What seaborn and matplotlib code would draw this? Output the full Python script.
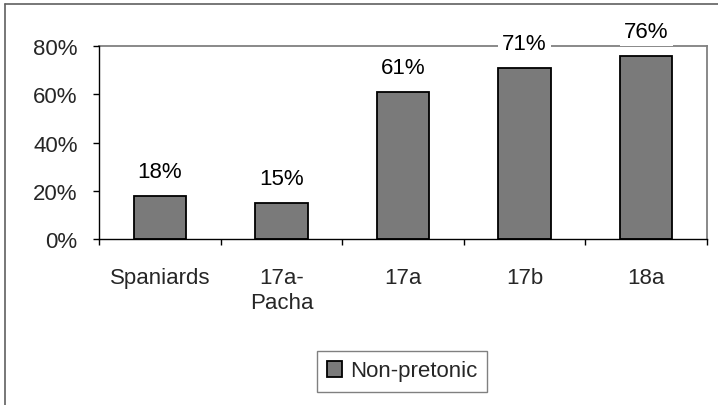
import matplotlib
matplotlib.use("Agg")
import matplotlib.pyplot as plt
import seaborn as sns
import pandas as pd
from matplotlib.lines import Line2D
from matplotlib.ticker import FixedLocator, PercentFormatter

categories = ["Spaniards", "17a-\nPacha", "17a", "17b", "18a"]
values = [18, 15, 61, 71, 76]
labels = ["18%", "15%", "61%", "71%", "76%"]
series_name = "Non-pretonic"

FS = 16

sns.set_theme(style="white")
plt.rcParams["font.family"] = ["Liberation Sans", "DejaVu Sans"]
plt.rcParams["font.size"] = FS

df = pd.DataFrame({"cat": categories, "val": values})

fig = plt.figure(figsize=(7.18, 4.06), dpi=100)
ax = fig.add_axes([99 / 718, 1 - 240 / 406, (707 - 99) / 718, (240 - 47) / 406])

sns.barplot(data=df, x="cat", y="val", color="#7a7a7a", width=0.43,
            edgecolor="black", linewidth=1.3, saturation=1, ax=ax)

ax.set_xlim(-0.5, 4.5)
ax.set_ylim(0, 80)
ax.set_yticks([0, 20, 40, 60, 80])
ax.yaxis.set_major_formatter(PercentFormatter(decimals=0))
ax.set_xlabel("")
ax.set_ylabel("")

for s in ["left", "bottom"]:
    ax.spines[s].set_color("black")
    ax.spines[s].set_linewidth(1.0)
for s in ["top", "right"]:
    ax.spines[s].set_color("#808080")
    ax.spines[s].set_linewidth(1.3)
    ax.spines[s].set_zorder(0.5)

ax.tick_params(axis="y", which="major", direction="out", length=4.3, width=1,
               color="black", pad=11, labelsize=FS, left=True)
ax.tick_params(axis="x", which="major", length=0, pad=20, labelsize=FS)
ax.xaxis.set_minor_locator(FixedLocator([-0.5, 0.5, 1.5, 2.5, 3.5, 4.5]))
ax.tick_params(axis="x", which="minor", direction="out", length=4.3, width=1,
               color="black", bottom=True)
for t in ax.get_xticklabels():
    t.set_verticalalignment("top")
    t.set_linespacing(1.25)

for i, (v, lab) in enumerate(zip(values, labels)):
    ax.annotate(lab, xy=(i, v), xytext=(0, 13.5), textcoords="offset points",
                ha="center", va="baseline", fontsize=FS, color="black",
                bbox=dict(boxstyle="square,pad=0.2", fc="white", ec="none"),
                zorder=5, annotation_clip=False)

leg = fig.legend(handles=[plt.Rectangle((0, 0), 1, 1, fc="#7a7a7a", ec="black", lw=1.3)],
                 labels=[series_name], loc="center", bbox_to_anchor=(402 / 718, 1 - 372 / 406),
                 frameon=True, fancybox=False, fontsize=FS, handlelength=0.7,
                 handleheight=0.7, handletextpad=0.35, borderpad=0.45, borderaxespad=0)
leg.get_frame().set_edgecolor("#606060")
leg.get_frame().set_linewidth(1.0)

# outer chart border (left and top)
fig.add_artist(Line2D([5 / 718, 5 / 718], [0, 1 - 5 / 406], color="#606060", lw=1.2))
fig.add_artist(Line2D([5 / 718, 1], [1 - 5 / 406, 1 - 5 / 406], color="#606060", lw=1.2))

fig.savefig("out.png", dpi=100)
